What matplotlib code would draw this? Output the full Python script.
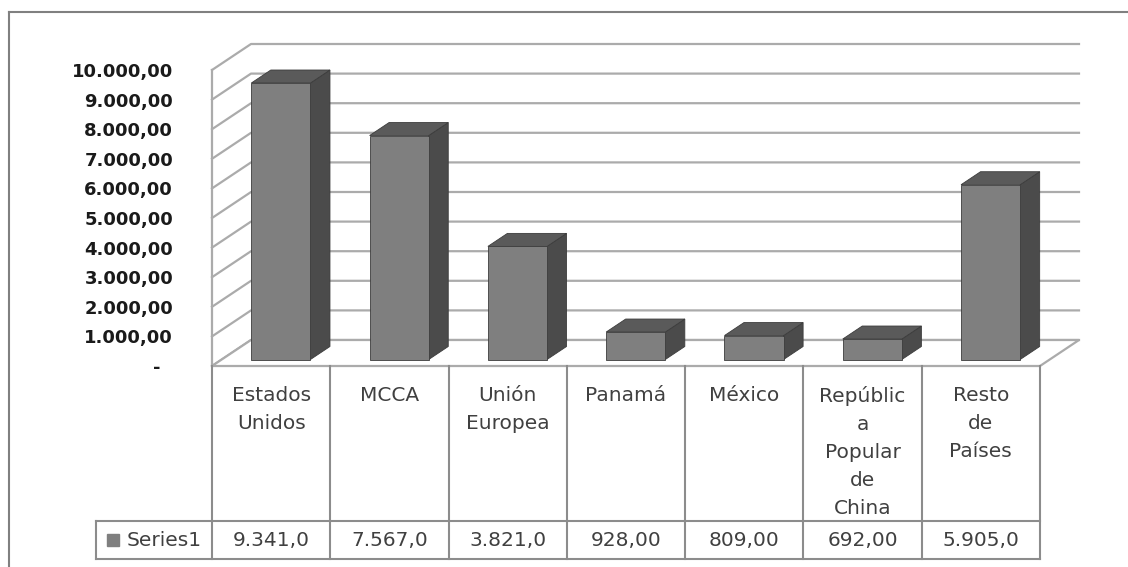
import matplotlib
matplotlib.use("Agg")
import matplotlib.pyplot as plt
from matplotlib.patches import Polygon
from matplotlib.lines import Line2D
from matplotlib.ticker import FuncFormatter

# ---------- données ----------
categories = ["Estados\nUnidos", "MCCA", "Unión\nEuropea", "Panamá", "México",
              "Repúblic\na\nPopular\nde\nChina", "Resto\nde\nPaíses"]
values = [9341, 7567, 3821, 928, 809, 692, 5905]
series_name = "Series1"
y_max = 10000
y_step = 1000


def fmt_es(v, decimals=2):
    s = f"{v:,.{decimals}f}"
    return s.replace(",", "X").replace(".", ",").replace("X", ".")


def tick_fmt(v, pos):
    if v == 0:
        return "-  "
    return fmt_es(v)


def cell_fmt(v):
    # Excel coupe la valeur à la largeur de la cellule
    return fmt_es(v)[:7]


# ---------- figure ----------
W, H = 1128, 567
fig = plt.figure(figsize=(W / 100, H / 100), dpi=100)
plt.rcParams["font.family"] = ["DejaVu Sans"]


def fx(px):
    return px / W


def fy(py):
    return 1 - py / H


GRID = "#ababab"
LINE = "#8c8c8c"
TXT = "#404040"

n = len(values)
ax = fig.add_axes([fx(212), fy(366), fx(1040) - fx(212), fy(70) - fy(366)])
ax.set_xlim(-0.5, n - 0.5)
ax.set_ylim(0, y_max)
ax.set_facecolor("none")
for sp in ax.spines.values():
    sp.set_visible(False)
ax.set_xticks([])
ax.set_yticks(range(0, y_max + 1, y_step))
ax.yaxis.set_major_formatter(FuncFormatter(tick_fmt))
ax.tick_params(axis="y", length=0, pad=28, labelsize=13, labelcolor="#1a1a1a")
for lb in ax.get_yticklabels():
    lb.set_fontweight("bold")

# profondeur (oblique) convertie en unités de données
p0 = ax.transData.transform((0, 0))
p1 = ax.transData.transform((1, y_step))
px_x = p1[0] - p0[0]
px_y = (p1[1] - p0[1]) / y_step
DX = 39 / px_x
DY = 26 / px_y

# ---------- murs + grille ----------
for v in range(0, y_max + 1, y_step):
    ax.plot([-0.5, -0.5 + DX, n - 0.5 + DX], [v, v + DY, v + DY],
            color=GRID, lw=1.6, clip_on=False, zorder=1)
ax.plot([-0.5, -0.5], [0, y_max], color=GRID, lw=1.6, clip_on=False, zorder=1)

floor = Polygon([(-0.5, 0), (n - 0.5, 0), (n - 0.5 + DX, DY), (-0.5 + DX, DY)],
                closed=True, facecolor="white", edgecolor=GRID, lw=1.6,
                clip_on=False, zorder=2)
ax.add_patch(floor)

# ---------- barres 3D ----------
bw = 0.5
z0 = 0.25
ddx, ddy = 0.5 * DX, 0.5 * DY
for i, v in enumerate(values):
    x0 = i - bw / 2 + z0 * DX
    x1 = x0 + bw
    y0 = z0 * DY
    y1 = y0 + v
    front = [(x0, y0), (x1, y0), (x1, y1), (x0, y1)]
    side = [(x1, y0), (x1 + ddx, y0 + ddy), (x1 + ddx, y1 + ddy), (x1, y1)]
    top = [(x0, y1), (x1, y1), (x1 + ddx, y1 + ddy), (x0 + ddx, y1 + ddy)]
    for pts, col in [(side, "#4b4b4b"), (top, "#5a5a5a"), (front, "#7f7f7f")]:
        ax.add_patch(Polygon(pts, closed=True, facecolor=col, edgecolor="#3c3c3c",
                             lw=0.6, clip_on=False, zorder=3))

# ---------- table de données ----------
legend_w = (212 - 96) / px_x
tax = fig.add_axes([fx(96), fy(559), fx(1040) - fx(96), fy(366) - fy(559)])
tax.set_xlim(-0.5 - legend_w, n - 0.5)
tax.set_ylim(0, 1)
tax.axis("off")
split = (559 - 521) / (559 - 366)

for k in range(n + 1):
    tax.plot([-0.5 + k, -0.5 + k], [0, 1], color=LINE, lw=1.5, clip_on=False)
tax.plot([-0.5 - legend_w, n - 0.5], [split, split], color=LINE, lw=1.5, clip_on=False)
tax.plot([-0.5 - legend_w, n - 0.5], [0, 0], color=LINE, lw=1.5, clip_on=False)
tax.plot([-0.5 - legend_w, -0.5 - legend_w], [0, split], color=LINE, lw=1.5, clip_on=False)

top_off = 20 / (559 - 366)
for i, (lab, v) in enumerate(zip(categories, values)):
    tax.text(i, 1 - top_off, lab, ha="center", va="top", fontsize=14.5,
             linespacing=1.6, color=TXT)
    tax.text(i, split / 2, cell_fmt(v), ha="center", va="center", fontsize=14.5,
             color=TXT)

tax.plot(-0.5 - legend_w + 0.14, split / 2, marker="s", ms=8, color="#7f7f7f",
         clip_on=False)
tax.text(-0.5 - legend_w + 0.26, split / 2, series_name, ha="left", va="center",
         fontsize=14.5, color=TXT)

# ---------- cadre extérieur ----------
fig.add_artist(Line2D([fx(9), 1.0], [fy(12), fy(12)], color="#808080", lw=1.5))
fig.add_artist(Line2D([fx(9), fx(9)], [fy(12), 0.0], color="#808080", lw=1.5))

fig.savefig("out.png", dpi=100)
